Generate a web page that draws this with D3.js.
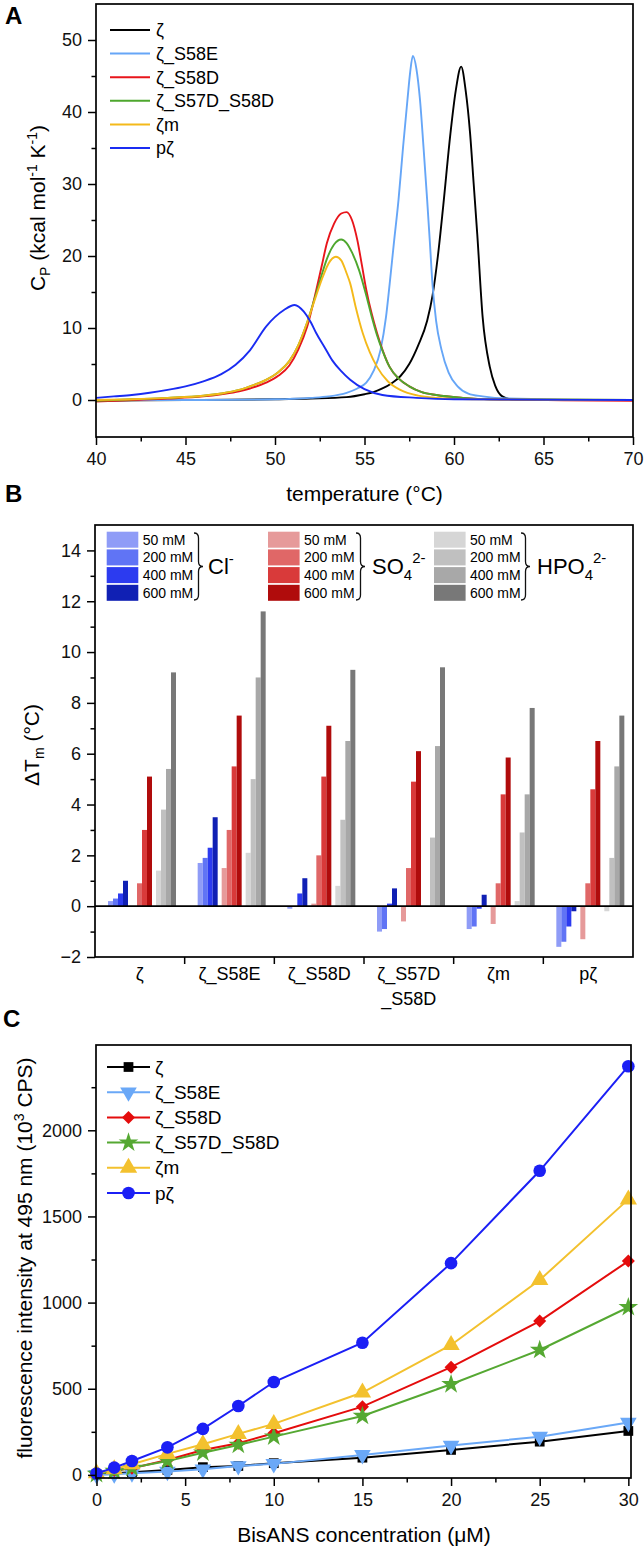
<!DOCTYPE html>
<html><head><meta charset="utf-8">
<script src="https://cdn.jsdelivr.net/npm/d3@7"></script>
<style>
body{margin:0;background:#fff;}
svg{display:block;font-family:"Liberation Sans",Arial,Helvetica,sans-serif;}
</style></head><body>
<svg id="c" width="644" height="1549"></svg>
<script>
// ---------------- DATA ----------------
const seriesNames = ["ζ","ζ_S58E","ζ_S58D","ζ_S57D_S58D","ζm","pζ"];
const colorsA = ["#000000","#66a6f7","#e8151b","#4ea72e","#f4b91a","#1a2cf2"];
const colorsC = ["#000000","#6aa8f7","#e40c0c","#55a832","#f3c12e","#1b1ff5"];

// Panel A: DSC curves [temperature °C, Cp kcal/mol/K]
const cpZeta = [[40,-0.1],[45,0],[50,0.1],[52,0.2],[54,0.4],[55,0.8],[55.5,1.1],[56,1.6],[56.5,2.3],[57,3.3],[57.5,5],[58,7.6],[58.5,11],[58.8,14.5],[59.1,20],[59.4,27],[59.8,37],[60.1,43],[60.4,46.3],[60.65,43],[60.9,37],[61.1,30],[61.3,23],[61.6,11.5],[62.0,4.6],[62.3,2],[62.7,0.5],[63.2,0.1],[66,0],[70,0]];
const cpS58E = [[40,0],[46,0],[50,0.1],[52,0.3],[53,0.5],[54,1.0],[54.6,1.6],[55.1,2.4],[55.5,4],[55.9,7],[56.2,11.5],[56.4,16],[56.65,22],[56.9,27.8],[57.15,35],[57.4,41.7],[57.55,45.5],[57.7,47.8],[57.9,46],[58.1,41.7],[58.3,35],[58.5,27.8],[58.65,22],[58.8,16],[59.0,11],[59.3,7],[59.7,3.8],[60.2,1.9],[60.8,0.9],[61.6,0.5],[63,0.2],[70,0]];
const cpS58D = [[40,-0.2],[42,0],[44,0.2],[46,0.5],[47,0.8],[48,1.2],[48.6,1.6],[49.5,2.4],[50.2,3.4],[50.8,4.8],[51.3,7],[51.8,10.2],[52.3,15.2],[52.6,18.5],[52.9,21.8],[53.3,24.5],[53.7,25.9],[54.0,26.1],[54.3,25],[54.6,22.2],[54.85,18.8],[55.1,15.3],[55.4,12],[55.7,9.3],[56.0,7],[56.4,4.6],[56.9,3],[57.5,1.9],[58.2,1.1],[59,0.7],[60.5,0.3],[62,0.1],[70,-0.1]];
const cpS57DS58D = [[40,-0.1],[42,0.1],[44,0.3],[46,0.6],[47,0.9],[48,1.4],[48.6,1.9],[49.5,2.8],[50.2,3.9],[50.8,5.4],[51.3,7.6],[51.8,10.8],[52.3,14.8],[52.6,17.3],[52.9,19.6],[53.3,21.6],[53.7,22.3],[54.0,21.8],[54.3,20.5],[54.7,18],[55.1,14.5],[55.4,11.6],[55.7,9],[56.0,6.9],[56.4,4.6],[56.9,3],[57.5,1.9],[58.2,1.1],[59,0.7],[60.5,0.3],[62,0.1],[70,0]];
const cpZetaM = [[40,0],[42,0.1],[44,0.3],[46,0.6],[47,0.9],[48,1.4],[48.6,1.9],[49.5,2.8],[50.2,3.9],[50.8,5.4],[51.3,7.6],[51.8,10.8],[52.3,14.5],[52.7,17.3],[53.0,19],[53.4,19.9],[53.7,19.4],[54.0,17.6],[54.2,16.2],[54.5,13],[54.9,9.3],[55.3,6.6],[55.7,4.6],[56.3,2.6],[57.0,1.4],[58,0.6],[59,0.3],[61,0.1],[70,0]];
const cpPZeta = [[40,0.3],[41,0.5],[42,0.7],[43,1.0],[44,1.4],[45,1.9],[46,2.6],[47,3.6],[47.8,4.9],[48.6,6.9],[49.5,10.2],[50.5,12.5],[51.1,13.2],[51.6,12.3],[52.0,10.8],[52.3,9.3],[52.8,7.2],[53.2,5.5],[53.7,4],[54.2,2.8],[55,1.5],[56,0.7],[57.9,0.3],[60,0.1],[70,0]];
const cpSeries = [cpZeta,cpS58E,cpS58D,cpS57DS58D,cpZetaM,cpPZeta];

const tempTicks = [40,45,50,55,60,65,70];
const tempMinor = [42.5,47.5,52.5,57.5,62.5,67.5];
const cpTicks = [0,10,20,30,40,50];
const cpMinor = [5,15,25,35,45];

// Panel B: ΔTm (°C) per protein, 4 concentrations each
const categoriesB = ["ζ","ζ_S58E","ζ_S58D","ζ_S57D_S58D","ζm","pζ"];
const concLabels = ["50 mM","200 mM","400 mM","600 mM"];
const dTmCl   = [[0.2,0.3,0.5,1.0],[1.7,1.9,2.3,3.5],[-0.1,0,0.5,1.1],[-1.0,-0.9,0.1,0.7],[-0.9,-0.8,-0.1,0.45],[-1.6,-1.4,-0.8,-0.2]];
const dTmSO4  = [[0,0.9,3.0,5.1],[1.5,3.0,5.5,7.5],[0.1,2.0,5.1,7.1],[-0.6,1.5,4.9,6.1],[-0.7,0.9,4.4,5.85],[-1.3,0.9,4.6,6.5]];
const dTmHPO4 = [[1.4,3.8,5.4,9.2],[2.1,5.0,9.0,11.6],[0.8,3.4,6.5,9.3],[0,2.7,6.3,9.4],[0.2,2.9,4.4,7.8],[-0.2,1.9,5.5,7.5]];
const colorsCl   = ["#8f9cf7","#6074f5","#2c3bf0","#1020b4"];
const colorsSO4  = ["#e69a9a","#e06767","#d93a3a","#b00c0c"];
const colorsHPO4 = ["#d6d6d6","#c0c0c0","#a8a8a8","#787878"];
const dTmTicks = [-2,0,2,4,6,8,10,12,14];
const dTmMinor = [-1,1,3,5,7,9,11,13];

// Panel C: BisANS fluorescence (10^3 CPS)
const bisConc = [0,1,2,4,6,8,10,15,20,25,30];
const fZeta      = [5,10,16,29,45,52,68,100,145,193,255];
const fS58E      = [0,4,10,19,33,52,64,116,170,222,304];
const fS58D      = [5,25,39,87,145,184,242,396,625,893,1241];
const fS57DS58D  = [5,23,41,81,129,174,222,342,526,725,973];
const fZetaM     = [10,33,62,122,178,238,296,478,754,1131,1599];
const fPZeta     = [8,42,81,160,267,400,539,767,1229,1765,2372];
const fSeries = [fZeta,fS58E,fS58D,fS57DS58D,fZetaM,fPZeta];
const concTicks = [0,5,10,15,20,25,30];
const concMinor = [2.5,7.5,12.5,17.5,22.5,27.5];
const fTicks = [0,500,1000,1500,2000];
const fMinor = [250,750,1250,1750,2250];

// ---------------- DRAWING ----------------
const svg = d3.select("#c");
const TICKFS = 18, TITLEFS = 21;

function frame(x0,x1,y0,y1){
  svg.append("rect").attr("x",x0).attr("y",y0).attr("width",x1-x0).attr("height",y1-y0)
    .attr("fill","none").attr("stroke","#000").attr("stroke-width",1.7);
}
function styleAxis(g){
  g.select(".domain").remove();
  g.selectAll("line").attr("stroke","#000").attr("stroke-width",1.5);
  g.selectAll("text").attr("font-size",TICKFS).attr("fill","#111").attr("font-family","'Liberation Sans',Arial,sans-serif");
}
function bottomAxis(scale,y,major,minor,labels=true){
  const g = svg.append("g").attr("transform",`translate(0,${y})`)
    .call(d3.axisBottom(scale).tickValues(major).tickSize(8).tickPadding(7).tickSizeOuter(0)
      .tickFormat(labels? d3.format("") : ""));
  styleAxis(g);
  if(minor){
    const m = svg.append("g").attr("transform",`translate(0,${y})`)
      .call(d3.axisBottom(scale).tickValues(minor).tickSize(4.5).tickFormat("").tickSizeOuter(0));
    styleAxis(m);
  }
}
function leftAxis(scale,x,major,minor){
  const g = svg.append("g").attr("transform",`translate(${x},0)`)
    .call(d3.axisLeft(scale).tickValues(major).tickSize(8).tickPadding(6).tickSizeOuter(0).tickFormat(d3.format("")));
  styleAxis(g);
  const m = svg.append("g").attr("transform",`translate(${x},0)`)
    .call(d3.axisLeft(scale).tickValues(minor).tickSize(4.5).tickFormat("").tickSizeOuter(0));
  styleAxis(m);
}
function panelLabel(t,x,y){
  svg.append("text").attr("x",x).attr("y",y).attr("font-size",24).attr("font-weight","bold").text(t);
}

// ===== Panel A =====
const A = {l:96,r:633,t:4,b:437};
const xA = d3.scaleLinear().domain([40,70]).range([A.l,A.r]);
const yA = d3.scaleLinear().domain([-5,55]).range([436,A.t]);
svg.append("clipPath").attr("id","clipA").append("rect").attr("x",A.l).attr("y",A.t).attr("width",A.r-A.l).attr("height",A.b-A.t);
const lineA = d3.line().x(d=>xA(d[0])).y(d=>yA(d[1])).curve(d3.curveMonotoneX);
cpSeries.forEach((s,i)=>{
  svg.append("path").attr("d",lineA(s)).attr("fill","none").attr("stroke",colorsA[i])
    .attr("stroke-width",1.9).attr("clip-path","url(#clipA)");
});
frame(A.l,A.r,A.t,A.b);
bottomAxis(xA,A.b,tempTicks,tempMinor);
leftAxis(yA,A.l,cpTicks,cpMinor);
svg.append("text").attr("x",(A.l+A.r)/2).attr("y",501).attr("text-anchor","middle")
  .attr("font-size",TITLEFS).text("temperature (°C)");
{
  const t = svg.append("text").attr("transform","translate(38,208) rotate(-90)").attr("text-anchor","middle")
    .attr("dy","0.35em").attr("font-size",TITLEFS);
  t.append("tspan").text("C");
  t.append("tspan").attr("font-size",14).attr("dy",5).text("P");
  t.append("tspan").attr("dy",-5).text(" (kcal mol");
  t.append("tspan").attr("font-size",14).attr("dy",-8).text("-1");
  t.append("tspan").attr("dy",8).text(" K");
  t.append("tspan").attr("font-size",14).attr("dy",-8).text("-1");
  t.append("tspan").attr("dy",8).text(")");
}
// legend A
seriesNames.forEach((n,i)=>{
  const y = 30 + i*23.6;
  svg.append("line").attr("x1",110).attr("x2",150).attr("y1",y).attr("y2",y)
    .attr("stroke",colorsA[i]).attr("stroke-width",2);
  svg.append("text").attr("x",156).attr("y",y).attr("dy","0.35em").attr("font-size",18).text(n);
});
panelLabel("A",5,24);

// ===== Panel B =====
const B = {l:95,r:633,t:525,b:957};
const yB = d3.scaleLinear().domain([-2,15]).range([B.b,B.t]);
const xB = d3.scaleBand().domain(categoriesB).range([B.l,B.r]).padding(0);
const barW = 5;
const ionSets = [{v:dTmCl,c:colorsCl},{v:dTmSO4,c:colorsSO4},{v:dTmHPO4,c:colorsHPO4}];
const barsG = svg.append("g");
categoriesB.forEach((cat,ci)=>{
  ionSets.forEach((set,s)=>{
    set.v[ci].forEach((val,k)=>{
      const x0 = xB(cat) + 13 + s*24 + k*barW;
      barsG.append("rect").attr("x",x0).attr("width",barW)
        .attr("y",Math.min(yB(0),yB(val))).attr("height",Math.abs(yB(val)-yB(0)))
        .attr("fill",set.c[k]);
    });
  });
});
svg.append("line").attr("x1",B.l).attr("x2",B.r).attr("y1",yB(0)).attr("y2",yB(0)).attr("stroke","#000").attr("stroke-width",1.8);
frame(B.l,B.r,B.t,B.b);
leftAxis(yB,B.l,dTmTicks,dTmMinor);
{
  const bounds = categoriesB.slice(1).map(c=>xB(c));
  const g = svg.append("g").attr("transform",`translate(0,${B.b})`);
  g.selectAll("line").data(bounds).join("line").attr("x1",d=>d).attr("x2",d=>d).attr("y1",0).attr("y2",7)
    .attr("stroke","#000").attr("stroke-width",1.5);
  categoriesB.forEach(cat=>{
    const cx = xB(cat)+xB.bandwidth()/2;
    if(cat==="ζ_S57D_S58D"){
      svg.append("text").attr("x",cx).attr("y",979.5).attr("text-anchor","middle").attr("font-size",TICKFS).text("ζ_S57D");
      svg.append("text").attr("x",cx).attr("y",1004.5).attr("text-anchor","middle").attr("font-size",TICKFS).text("_S58D");
    } else {
      svg.append("text").attr("x",cx).attr("y",979.5).attr("text-anchor","middle").attr("font-size",TICKFS).text(cat);
    }
  });
}
{
  const t = svg.append("text").attr("transform","translate(32,745) rotate(-90)").attr("text-anchor","middle")
    .attr("dy","0.35em").attr("font-size",TITLEFS);
  t.append("tspan").text("ΔT");
  t.append("tspan").attr("font-size",14).attr("dy",5).text("m");
  t.append("tspan").attr("dy",-5).text(" (°C)");
}
// legend B
function brace(x,y0,y1,w){
  const ym=(y0+y1)/2, r=5, xm=x+w*0.5;
  return `M${x},${y0} Q${xm},${y0} ${xm},${y0+r} L${xm},${ym-r} Q${xm},${ym} ${x+w},${ym} Q${xm},${ym} ${xm},${ym+r} L${xm},${y1-r} Q${xm},${y1} ${x},${y1}`;
}
const legX = [106.7,268,434];
const braceX = [194,356,521];
ionSets.forEach((set,s)=>{
  concLabels.forEach((lab,k)=>{
    const top = 531.7 + k*17.7;
    svg.append("rect").attr("x",legX[s]).attr("y",top).attr("width",31.6).attr("height",16).attr("fill",set.c[k]);
    svg.append("text").attr("x",legX[s]+36).attr("y",top+8).attr("dy","0.35em").attr("font-size",14).text(lab);
  });
  svg.append("path").attr("d",brace(braceX[s],533,600,9)).attr("fill","none").attr("stroke","#111").attr("stroke-width",1.3);
});
{
  let t = svg.append("text").attr("x",208).attr("y",574).attr("font-size",22);
  t.append("tspan").text("Cl");
  t.append("tspan").attr("font-size",15).attr("dy",-10).text("-");
  t = svg.append("text").attr("x",372).attr("y",574).attr("font-size",22);
  t.append("tspan").text("SO");
  t.append("tspan").attr("font-size",15).attr("dy",6).text("4");
  t.append("tspan").attr("font-size",15).attr("dy",-17).text("2-");
  t = svg.append("text").attr("x",537).attr("y",574).attr("font-size",22);
  t.append("tspan").text("HPO");
  t.append("tspan").attr("font-size",15).attr("dy",6).text("4");
  t.append("tspan").attr("font-size",15).attr("dy",-17).text("2-");
}
panelLabel("B",5,502);

// ===== Panel C =====
const C = {l:96,r:631,t:1045,b:1478};
const xC = d3.scaleLinear().domain([0,30.15]).range([96.5,C.r]);
const yC = d3.scaleLinear().domain([-18,2495]).range([C.b,C.t]);
const lineC = d3.line().x((d,i)=>xC(bisConc[i])).y(d=>yC(d));
const symbols = [
  {t:d3.symbolSquare,s:95,r:0},
  {t:d3.symbolTriangle,s:120,r:180},
  {t:d3.symbolSquare,s:85,r:45},
  {t:d3.symbolStar,s:120,r:0},
  {t:d3.symbolTriangle,s:130,r:0},
  {t:d3.symbolCircle,s:125,r:0}
];
fSeries.forEach((s,i)=>{
  svg.append("path").attr("d",lineC(s)).attr("fill","none").attr("stroke",colorsC[i]).attr("stroke-width",2);
  const sym = d3.symbol().type(symbols[i].t).size(symbols[i].s);
  svg.append("g").selectAll("path").data(s).join("path")
    .attr("d",sym).attr("fill",colorsC[i])
    .attr("transform",(d,j)=>`translate(${xC(bisConc[j])},${yC(d)}) rotate(${symbols[i].r})`);
});
frame(C.l,C.r,C.t,C.b);
bottomAxis(xC,C.b,concTicks,concMinor);
leftAxis(yC,C.l,fTicks,fMinor);
svg.append("text").attr("x",364).attr("y",1542).attr("text-anchor","middle").attr("font-size",TITLEFS).text("BisANS concentration (μM)");
{
  const t = svg.append("text").attr("transform","translate(25,1258) rotate(-90)").attr("text-anchor","middle")
    .attr("dy","0.35em").attr("font-size",TITLEFS);
  t.append("tspan").text("fluorescence intensity at 495 nm (10");
  t.append("tspan").attr("font-size",14).attr("dy",-8).text("3");
  t.append("tspan").attr("dy",8).text(" CPS)");
}
seriesNames.forEach((n,i)=>{
  const y = 1067 + i*25.2;
  svg.append("line").attr("x1",107).attr("x2",150).attr("y1",y).attr("y2",y).attr("stroke",colorsC[i]).attr("stroke-width",2);
  svg.append("path").attr("d",d3.symbol().type(symbols[i].t).size(symbols[i].s)()).attr("fill",colorsC[i])
    .attr("transform",`translate(128.5,${y}) rotate(${symbols[i].r})`);
  svg.append("text").attr("x",155).attr("y",y).attr("dy","0.35em").attr("font-size",19).text(n);
});
panelLabel("C",3,1027);
</script>
</body></html>
